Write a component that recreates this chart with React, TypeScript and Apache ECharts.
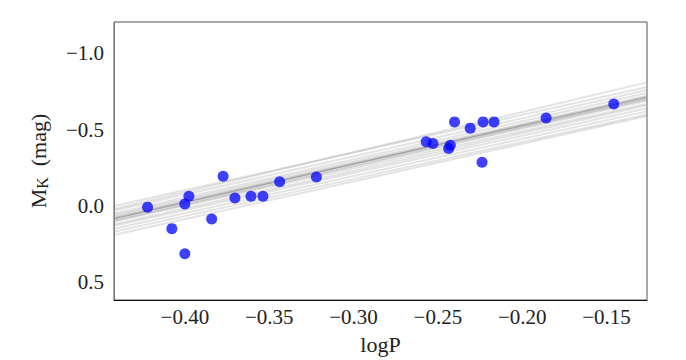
import React, { useEffect, useRef } from "react";
import * as echarts from "echarts";

const logP = [
  -0.4221, -0.4077, -0.4, -0.4, -0.3976, -0.3841, -0.3773, -0.3703, -0.3608, -0.3537, -0.3438, -0.322,
  -0.2569, -0.2529, -0.2436, -0.2426, -0.2401, -0.2308, -0.2238, -0.2232, -0.2167, -0.1858, -0.1457,
];
const MK = [
  0.008, 0.149, 0.313, -0.013, -0.063, 0.086, -0.195, -0.052, -0.063, -0.063, -0.158, -0.19,
  -0.42, -0.409, -0.376, -0.398, -0.551, -0.51, -0.287, -0.551, -0.551, -0.577, -0.668,
];

// bootstrap fits: M = a + b * (logP + 0.3)
const fitIntercepts = [
  -0.35, -0.353, -0.325, -0.305, -0.29, -0.276, -0.275, -0.26, -0.246, -0.23, -0.216, -0.196, -0.176, -0.16, -0.28, -0.26,
];
const fitSlopes = [
  -2.468, -2.627, -2.5, -2.5, -2.468, -2.437, -2.5, -2.468, -2.437, -2.468, -2.437, -2.437, -2.437, -2.468, -2.532, -2.532,
];
const bestIntercept = -0.274;
const bestSlope = -2.52;

const xTicks = [-0.4, -0.35, -0.3, -0.25, -0.2, -0.15];
const yTicks = [-1.0, -0.5, 0.0, 0.5];
const xMin = -0.442;
const xMax = -0.126;
const yMin = -1.206;
const yMax = 0.617;

const FONT = "'Liberation Serif', 'DejaVu Serif', serif";

function fmt(v: number, d: number) {
  const s = Math.abs(v).toFixed(d);
  return (v < -1e-9 ? "\u2212" : "") + s;
}

export default function App() {
  const ref = useRef<HTMLDivElement>(null);
  useEffect(() => {
    document.body.style.margin = "0";
    const chart = echarts.init(ref.current!, null, { renderer: "svg" });
    const lineSeries: any[] = fitIntercepts.map((a, i) => {
      const b = fitSlopes[i];
      return {
        type: "line",
        silent: true,
        showSymbol: false,
        symbol: "none",
        lineStyle: { color: "#999", opacity: 0.28, width: 2 },
        data: [
          [xMin, a + b * (xMin + 0.3)],
          [xMax, a + b * (xMax + 0.3)],
        ],
        z: 1,
      };
    });
    lineSeries.push({
      type: "line",
      silent: true,
      symbol: "none",
      lineStyle: { color: "#888", opacity: 0.6, width: 1.2 },
      data: [
        [xMin, bestIntercept + bestSlope * (xMin + 0.3)],
        [xMax, bestIntercept + bestSlope * (xMax + 0.3)],
      ],
      z: 2,
    });
    chart.setOption({
      animation: false,
      grid: {
        left: 114,
        top: 22,
        right: 39,
        bottom: 57,
        show: true,
        borderColor: "#555",
        borderWidth: 1,
        backgroundColor: "#fff",
      },
      xAxis: {
        type: "value",
        min: xMin,
        max: xMax,
        name: "logP",
        nameLocation: "middle",
        nameGap: 33,
        nameTextStyle: { fontFamily: FONT, fontSize: 22, color: "#222" },
        axisLine: { show: true, onZero: false, lineStyle: { color: "#111", width: 1 } },
        axisTick: { show: false },
        splitLine: { show: false },
        axisLabel: {
          customValues: xTicks,
          formatter: (v: number) => fmt(v, 2),
          fontFamily: FONT,
          fontSize: 21,
          color: "#222",
          margin: 6,
        },
      },
      yAxis: {
        type: "value",
        inverse: true,
        min: yMin,
        max: yMax,
        name: "{m|M}{k|K}{m|  (mag)}",
        nameLocation: "middle",
        nameGap: 64,
        nameTextStyle: {
          fontFamily: FONT,
          fontSize: 22,
          color: "#222",
          rich: {
            m: { fontFamily: FONT, fontSize: 22, color: "#222", lineHeight: 24, verticalAlign: "middle" },
            k: { fontFamily: FONT, fontSize: 16, color: "#222", lineHeight: 16, verticalAlign: "bottom", padding: [7, 0, 0, 0] },
          },
        },
        axisLine: { show: true, onZero: false, lineStyle: { color: "#777", width: 1 } },
        axisTick: { show: false },
        splitLine: { show: false },
        axisLabel: {
          customValues: yTicks,
          formatter: (v: number) => fmt(v, 1),
          fontFamily: FONT,
          fontSize: 21,
          color: "#222",
          margin: 10,
        },
      },
      series: [
        ...lineSeries,
        {
          type: "scatter",
          data: logP.map((x, i) => [x, MK[i]]),
          symbolSize: 11,
          itemStyle: { color: "#0000ff", opacity: 0.75 },
          z: 5,
        },
      ],
    });
    return () => chart.dispose();
  }, []);
  return <div ref={ref} style={{ width: 686, height: 360 }} />;
}
